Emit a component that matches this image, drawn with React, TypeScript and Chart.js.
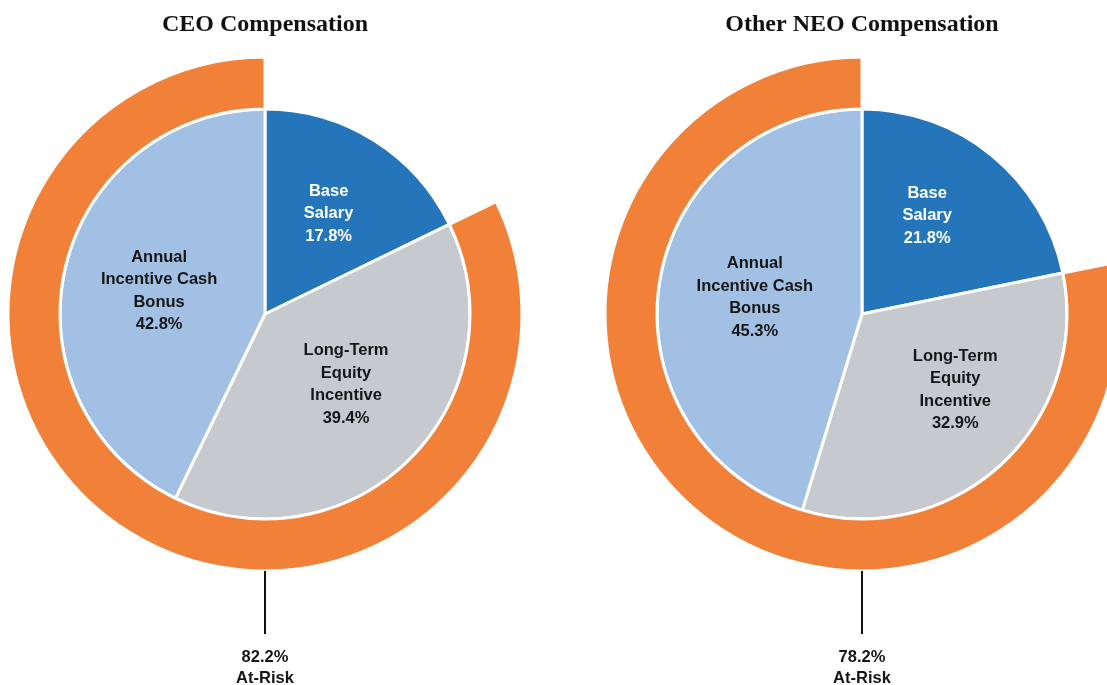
import React, { useEffect, useRef } from "react";
import { Chart, registerables } from "chart.js";

Chart.register(...registerables);

// ---- data ----
const categories = ["Base Salary", "Long-Term Equity Incentive", "Annual Incentive Cash Bonus"];
const sliceLines = [["Base", "Salary"], ["Long-Term", "Equity", "Incentive"], ["Annual", "Incentive Cash", "Bonus"]];
const ceoValues = [17.8, 39.4, 42.8];
const neoValues = [21.8, 32.9, 45.3];
const ceoAtRisk = 82.2;
const neoAtRisk = 78.2;
const titles = ["CEO Compensation", "Other NEO Compensation"];

const sliceColors = ["#2575BB", "#C6C9CD", "#A2C0E3"];
const sliceTextColors = ["#ffffff", "#161616", "#161616"];
const orange = "#F18039";

const W = 560;
const H = 685;

const overlayPlugin = {
  id: "overlay",
  afterDatasetsDraw(chart: any, _args: any, opts: any) {
    const ctx = chart.ctx;
    const area = chart.chartArea;
    ctx.save();
    // title
    ctx.fillStyle = "#111";
    ctx.font = 'bold 24px "Liberation Serif", "Times New Roman", serif';
    ctx.textAlign = "center";
    ctx.textBaseline = "alphabetic";
    ctx.fillText(opts.title, (area.left + area.right) / 2, 31);

    // slice labels
    const meta = chart.getDatasetMeta(1);
    const values = chart.data.datasets[1].data;
    ctx.font = 'bold 16.5px "Liberation Sans", Arial, sans-serif';
    const lh = 22.5;
    const capH = 11.8;
    meta.data.forEach((arc: any, i: number) => {
      const p = arc.getProps(["x", "y", "startAngle", "endAngle", "outerRadius"], true);
      const mid = (p.startAngle + p.endAngle) / 2 + (opts.shift[i] * Math.PI) / 180;
      const r = p.outerRadius * opts.radial[i];
      const px = p.x + Math.cos(mid) * r;
      const py = p.y + Math.sin(mid) * r;
      const lines = [...sliceLines[i], values[i].toFixed(1) + "%"];
      const total = capH + (lines.length - 1) * lh;
      let by = py - total / 2 + capH;
      ctx.fillStyle = sliceTextColors[i];
      lines.forEach((t: string) => {
        ctx.fillText(t, px, by);
        by += lh;
      });
    });

    // at-risk callout
    const ringMeta = chart.getDatasetMeta(0);
    const ringArc: any = ringMeta.data[1];
    const rp = ringArc.getProps(["x", "y", "outerRadius"], true);
    const bottom = rp.y + rp.outerRadius;
    ctx.strokeStyle = "#111";
    ctx.lineWidth = 2;
    ctx.beginPath();
    ctx.moveTo(rp.x, bottom);
    ctx.lineTo(rp.x, bottom + 63);
    ctx.stroke();
    ctx.fillStyle = "#161616";
    const atRisk = chart.data.datasets[0].data[1];
    ctx.fillText(atRisk.toFixed(1) + "%", rp.x, bottom + 91);
    ctx.fillText("At-Risk", rp.x, bottom + 112);
    ctx.restore();
  },
};

function PieChart({ values, atRisk, title, radial, shift }: { values: number[]; atRisk: number; title: string; radial: number[]; shift: number[] }) {
  const ref = useRef<HTMLCanvasElement | null>(null);
  useEffect(() => {
    if (!ref.current) return;
    const chart = new Chart(ref.current, {
      type: "doughnut",
      data: {
        labels: categories,
        datasets: [
          {
            label: "At-Risk",
            data: [100 - atRisk, atRisk],
            backgroundColor: ["rgba(0,0,0,0)", orange],
            borderColor: "#ffffff",
            borderWidth: [0, 3],
            hoverBorderWidth: [0, 3],
            weight: 52,
          } as any,
          {
            label: "Compensation",
            data: values,
            backgroundColor: sliceColors,
            borderColor: "#ffffff",
            borderWidth: 3,
            hoverBorderWidth: 3,
            weight: 205,
          } as any,
        ],
      },
      options: {
        responsive: false,
        animation: false,
        cutout: 0,
        radius: 257,
        hoverOffset: 0,
        layout: { padding: { left: 23, right: 23, top: 57, bottom: 114 } },
        events: [],
        plugins: {
          legend: { display: false },
          tooltip: { enabled: false },
          overlay: { title, radial, shift },
        } as any,
      } as any,
      plugins: [overlayPlugin],
    });
    return () => chart.destroy();
  }, [values, atRisk, title, radial, shift]);
  return <canvas ref={ref} width={W} height={H} style={{ width: W, height: H, display: "block" }} />;
}

const ceoRadial = [0.585, 0.52, 0.53];
const ceoShift = [0, -4.5, 0];
const neoRadial = [0.58, 0.583, 0.53];
const neoShift = [-6, -9, 1];

export default function App() {
  return (
    <div
      style={{
        position: "fixed",
        left: 0,
        top: 0,
        width: 1107,
        height: 685,
        overflow: "hidden",
        background: "#ffffff",
      }}
    >
      <div style={{ position: "absolute", left: 265 - W / 2, top: 0 }}>
        <PieChart values={ceoValues} atRisk={ceoAtRisk} title={titles[0]} radial={ceoRadial} shift={ceoShift} />
      </div>
      <div style={{ position: "absolute", left: 862 - W / 2, top: 0 }}>
        <PieChart values={neoValues} atRisk={neoAtRisk} title={titles[1]} radial={neoRadial} shift={neoShift} />
      </div>
    </div>
  );
}
